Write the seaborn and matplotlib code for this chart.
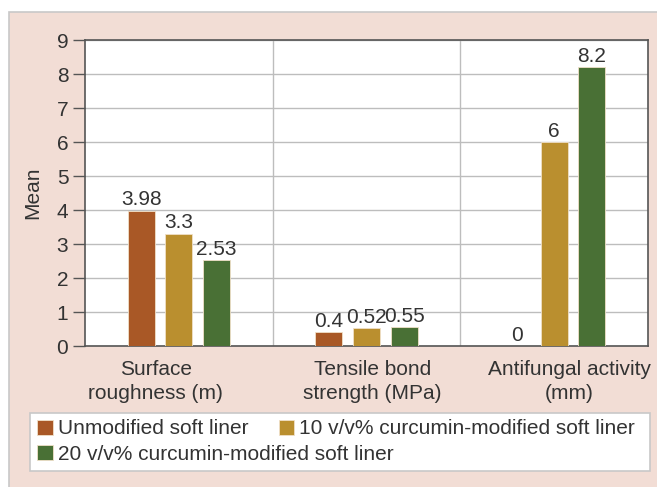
import seaborn as sns
import matplotlib.pyplot as plt
import matplotlib.transforms as mtransforms
import pandas as pd
from matplotlib.patches import Rectangle

# Datos
categorias = ['Surface\nroughness (m)', 'Tensile bond\nstrength (MPa)', 'Antifungal activity\n(mm)']
grupos = ['Unmodified soft liner',
          '10 v/v% curcumin-modified soft liner',
          '20 v/v% curcumin-modified soft liner']
sin_modificar = [3.98, 0.4, 0]
curcumina_10 = [3.3, 0.52, 6]
curcumina_20 = [2.53, 0.55, 8.2]

colores = ['#A95826', '#BA8F2F', '#497035']
color_texto = '#333333'
tam = 15

filas = []
for grupo, valores in zip(grupos, [sin_modificar, curcumina_10, curcumina_20]):
    for cat, v in zip(categorias, valores):
        filas.append({'Categoria': cat, 'Grupo': grupo, 'Mean': v})
df = pd.DataFrame(filas)

sns.set_style('white')
plt.rcParams['font.family'] = ['Liberation Sans', 'DejaVu Sans']
plt.rcParams['text.color'] = color_texto

W, H = 657, 487
fig = plt.figure(figsize=(W / 100, H / 100), dpi=100, facecolor='white')

# Panel de fondo rosado
fig.patches.append(Rectangle((9 / W, -0.05), 1.1, 1 - 12 / H + 0.05,
                             transform=fig.transFigure, facecolor='#F2DDD5',
                             edgecolor='#C8C8C8', linewidth=1.2, zorder=-5))

ax = fig.add_axes([85 / W, 1 - 346 / H, (648 - 85) / W, (346 - 40) / H])
ax.set_facecolor('white')

sns.barplot(data=df, x='Categoria', y='Mean', hue='Grupo', order=categorias,
            hue_order=grupos, palette=colores, saturation=1, width=0.6, gap=0.28,
            edgecolor='#F0E0C8', linewidth=0.6, ax=ax, legend=True, zorder=3)

for cont in ax.containers:
    ax.bar_label(cont, fmt='%g', padding=1, fontsize=tam, color=color_texto)

ax.set_xlim(-0.5, 2.5)
ax.set_ylim(0, 9)
ax.set_yticks(range(10))
ax.set_xticks([0.5, 1.5], minor=True)
ax.grid(axis='y', which='major', color='#BDBDBD', linewidth=1, zorder=0)
ax.grid(axis='x', which='minor', color='#BDBDBD', linewidth=1, zorder=0)
ax.set_axisbelow(True)

for lado, sp in ax.spines.items():
    sp.set_visible(True)
    sp.set_color('#555555')
    sp.set_linewidth(1.2)

ax.tick_params(axis='y', which='major', length=9, width=1, color='#555555',
               labelsize=tam, labelcolor=color_texto, left=True, pad=3)
ax.tick_params(axis='x', which='both', length=0, labelsize=tam,
               labelcolor=color_texto, pad=10)
ax.set_xlabel('')
ax.set_ylabel('Mean', fontsize=tam, color=color_texto, labelpad=10)

# Las etiquetas del eje x no están centradas en el original
desplazamientos = [-23, 6, 15]
for lbl, dx in zip(ax.get_xticklabels(), desplazamientos):
    lbl.set_linespacing(1.35)
    lbl.set_transform(lbl.get_transform() +
                      mtransforms.ScaledTranslation(dx / 100, 0, fig.dpi_scale_trans))

# Leyenda: marco propio + dos filas
handles, labels = ax.get_legend_handles_labels()
ax.get_legend().remove()
fig.patches.append(Rectangle((30 / W, 1 - 471 / H), 620 / W, 58 / H,
                             transform=fig.transFigure, facecolor='white',
                             edgecolor='#C8C8C8', linewidth=1.2, zorder=-4))
opciones = dict(loc='center left', frameon=False, fontsize=tam,
                handlelength=0.75, handleheight=0.75, handletextpad=0.25,
                columnspacing=1.45, borderpad=0, borderaxespad=0)
fila1 = fig.legend(handles[:2], labels[:2], ncol=2,
                   bbox_to_anchor=(37 / W, 1 - 429 / H), **opciones)
fila2 = fig.legend(handles[2:], labels[2:], ncol=1,
                   bbox_to_anchor=(37 / W, 1 - 454 / H), **opciones)
for leg in (fila1, fila2):
    for t in leg.get_texts():
        t.set_color(color_texto)

fig.savefig('out.png', dpi=100, facecolor='white')
